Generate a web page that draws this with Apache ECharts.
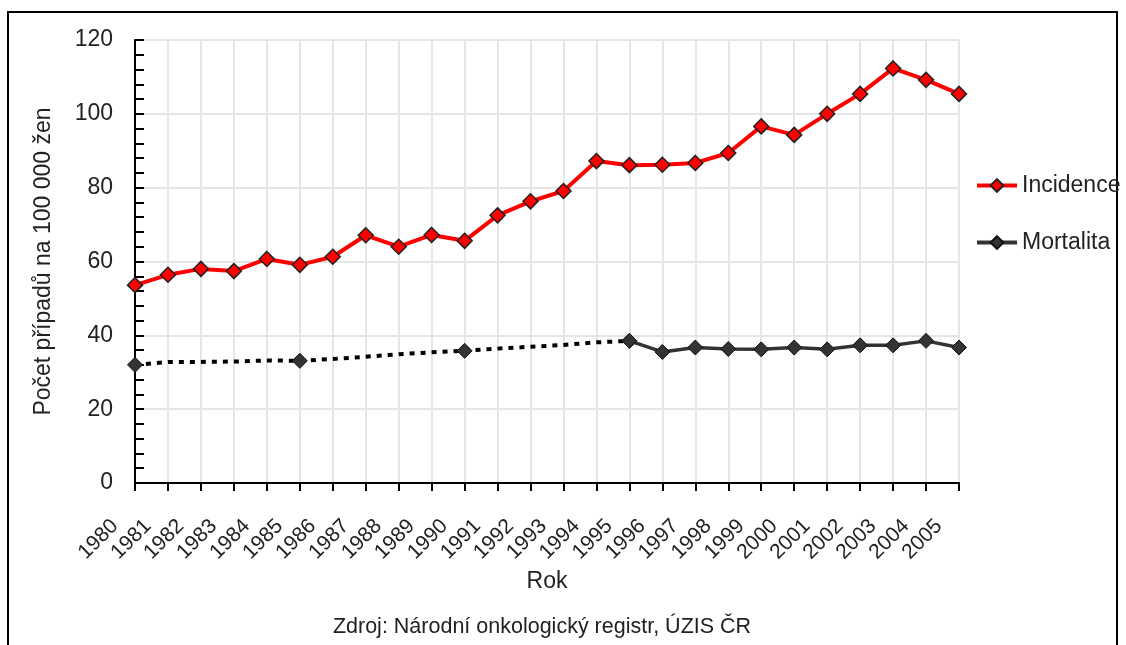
<!DOCTYPE html>
<html>
<head>
<meta charset="utf-8">
<script src="https://cdn.jsdelivr.net/npm/echarts@6/dist/echarts.min.js"></script>
<style>
  html, body { margin: 0; padding: 0; background: #fff; }
  #chart { width: 1126px; height: 645px; }
</style>
</head>
<body>
<div id="chart"></div>
<script>
// roky
const years = ['1980','1981','1982','1983','1984','1985','1986','1987','1988','1989','1990','1991','1992',
  '1993','1994','1995','1996','1997','1998','1999','2000','2001','2002','2003','2004','2005'];
// incidence na 100 000 zen
const incidence = [53.6,56.4,58.0,57.4,60.7,59.1,61.3,67.1,64.0,67.2,65.6,72.5,76.3,
  79.1,87.2,86.1,86.2,86.7,89.4,96.6,94.3,100.0,105.4,112.3,109.2,105.4];
// mortalita 1980-1995 (teckovane, odhad)
const mortalitaOdhad = [32.0,32.8,32.8,32.9,33.2,33.1,33.6,34.2,34.9,35.4,35.8,36.4,36.9,37.4,38.1,38.5];
const odhadZnacky = ['1980','1985','1990','1995'];
// mortalita 1995-2005
const mortalita = [38.5,35.5,36.7,36.3,36.2,36.7,36.2,37.3,37.3,38.5,36.7];
const yTicks = [0, 20, 40, 60, 80, 100, 120];

const chart = echarts.init(document.getElementById('chart'));
const font = 'Liberation Sans, Arial, sans-serif';

const odhadData = mortalitaOdhad.map((v, i) => {
  if (odhadZnacky.indexOf(years[i]) >= 0) return v;
  return { value: v, symbol: 'none' };
});
const mortData = years.map((y, i) => {
  const k = i - (years.length - mortalita.length);
  return k >= 0 ? mortalita[k] : '-';
});

const option = {
  backgroundColor: '#fff',
  animation: false,
  textStyle: { fontFamily: font, color: '#222' },
  graphic: [
    {
      type: 'rect',
      shape: { x: 8, y: 12, width: 1109, height: 700 },
      style: { fill: 'none', stroke: '#000', lineWidth: 2 }
    },
    {
      type: 'text',
      x: 542, y: 627,
      style: {
        text: 'Zdroj: Národní onkologický registr, ÚZIS ČR',
        align: 'center', verticalAlign: 'middle',
        font: '21.5px ' + font, fill: '#222'
      }
    }
  ],
  grid: { left: 135, right: 167, top: 40, bottom: 162 },
  legend: {
    orient: 'vertical',
    left: 970, top: 169,
    itemWidth: 40, itemHeight: 16, itemGap: 34,
    lineStyle: { width: 4 },
    textStyle: { fontSize: 23, color: '#222', fontFamily: font },
    data: ['Incidence', 'Mortalita']
  },
  xAxis: {
    type: 'category',
    data: years,
    boundaryGap: false,
    name: 'Rok',
    nameLocation: 'middle',
    nameGap: 84,
    nameTextStyle: { fontSize: 23, color: '#222' },
    axisLine: { lineStyle: { color: '#000', width: 2 } },
    axisTick: { show: true, length: 8, interval: 0, lineStyle: { color: '#000', width: 2 } },
    axisLabel: {
      rotate: 45, interval: 0, fontSize: 21, color: '#222',
      margin: 60, verticalAlign: 'bottom', padding: [0, 0, 18, 0]
    },
    splitLine: { show: true, interval: 0, lineStyle: { color: '#e6e6e6', width: 2 } }
  },
  yAxis: {
    type: 'value',
    min: yTicks[0], max: yTicks[yTicks.length - 1], interval: 20,
    name: 'Počet případů na 100 000 žen',
    nameLocation: 'middle',
    nameGap: 80,
    nameTextStyle: { fontSize: 23, color: '#222' },
    axisLine: { show: true, lineStyle: { color: '#000', width: 2 } },
    axisTick: { show: true, inside: true, length: 9, lineStyle: { color: '#000', width: 2 } },
    minorTick: { show: true, splitNumber: 5, length: 9, lineStyle: { color: '#000', width: 2 } },
    axisLabel: { fontSize: 23, color: '#222', margin: 22 },
    splitLine: { show: true, lineStyle: { color: '#e6e6e6', width: 2 } }
  },
  series: [
    {
      name: 'Incidence',
      type: 'line',
      data: incidence,
      symbol: 'diamond',
      symbolSize: 15,
      z: 3,
      lineStyle: { color: '#ff0000', width: 4 },
      itemStyle: { color: '#ff0000', borderColor: '#222', borderWidth: 1.5 }
    },
    {
      name: 'Mortalita',
      type: 'line',
      data: mortData,
      symbol: 'diamond',
      symbolSize: 15,
      lineStyle: { color: '#333', width: 3.5 },
      itemStyle: { color: '#333', borderColor: '#111', borderWidth: 1 }
    },
    {
      name: 'Mortalita odhad',
      type: 'line',
      data: odhadData,
      symbol: 'diamond',
      symbolSize: 15,
      showAllSymbol: true,
      lineStyle: { color: '#000', width: 4, type: [5, 6] },
      itemStyle: { color: '#333', borderColor: '#111', borderWidth: 1 }
    }
  ]
};
chart.setOption(option);
</script>
</body>
</html>
